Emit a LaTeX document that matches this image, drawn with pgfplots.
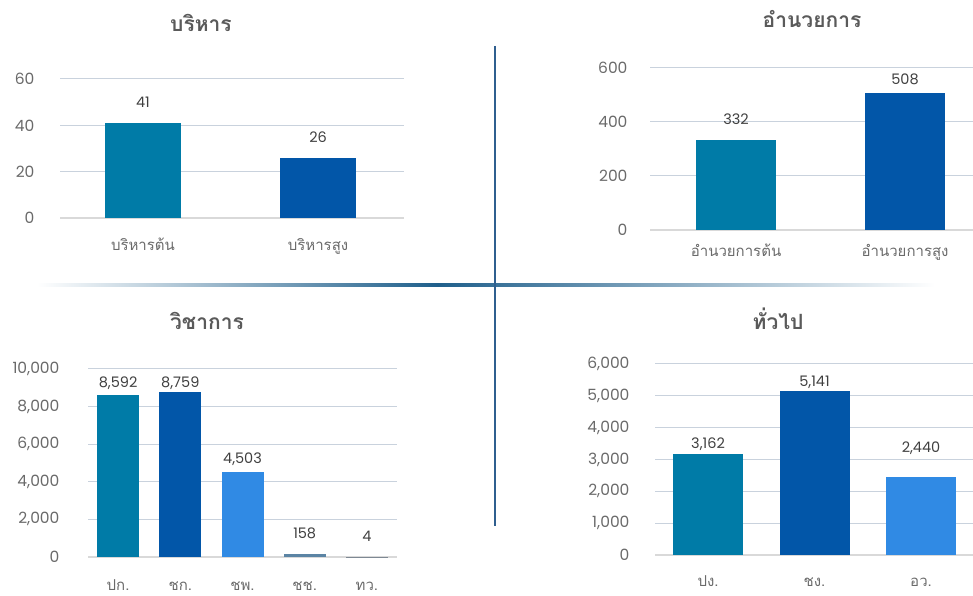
\documentclass[border=0pt]{standalone}
\usepackage{fontspec}
\usepackage{pgfplots}
\pgfplotsset{compat=1.18}
\setmainfont{Poppins}
\newfontfamily\thai[Script=Thai]{Loma}
\definecolor{cA}{HTML}{007BA7}
\definecolor{cB}{HTML}{0256A8}
\definecolor{cC}{HTML}{308AE4}
\definecolor{cD}{HTML}{5B84A4}
\definecolor{cE}{HTML}{7E8893}
\definecolor{gridc}{HTML}{C9D2DD}
\definecolor{basec}{HTML}{D9D9D9}
\definecolor{tickc}{HTML}{6A6A6A}
\definecolor{labc}{HTML}{404040}
\definecolor{titc}{HTML}{5A5A5A}
\definecolor{divc}{HTML}{1F5F8B}
\definecolor{divv}{HTML}{2F5F8F}
\pgfplotsset{
  /pgf/number format/assume math mode=true,
  /pgf/number format/1000 sep={,},
  panel/.style={
    scale only axis, anchor=south west, clip=false,
    ybar, ymin=0, scaled y ticks=false,
    axis line style={draw=none}, major tick length=0pt,
    ymajorgrids, grid style={draw=gridc, line width=1pt},
    extra y ticks={0},
    extra y tick style={grid style={draw=basec, line width=1.6pt}},
    tick label style={font=\fontsize{15.5}{15.5}\selectfont, text=tickc},
    xticklabel style={font=\thai\fontsize{15}{15}\selectfont, text=tickc, anchor=base},
    nodes near coords,
    every node near coord/.append style={font=\fontsize{14.5}{14.5}\selectfont, text=labc, anchor=base},
  },
  lab/.style={bar shift=0pt, draw=none, every node near coord/.append style={yshift=#1}},
}
\begin{document}
\begin{tikzpicture}
\useasboundingbox (0,0) rectangle (973pt,596pt);
% dividers
\shade[left color=white, right color=divc] (37pt,309.5pt) rectangle (437pt,312.5pt);
\shade[left color=divc, right color=white] (437pt,309.5pt) rectangle (935pt,312.5pt);
\draw[divv, line width=1.5pt] (495pt,550pt) -- (495pt,70pt);
% titles
\begin{scope}[every node/.style={font=\thai\bfseries\fontsize{21}{21}\selectfont, text=titc, anchor=base}]
\node at (201pt,564pt) {บริหาร};
\node at (812pt,568pt) {อำนวยการ};
\node at (207pt,266pt) {วิชาการ};
\node at (778pt,266pt) {ทั่วไป};
\end{scope}
% panel 1
\begin{axis}[panel, at={(60pt,378pt)}, width=344pt, height=139pt,
  ymax=60, ytick={20,40,60}, xmin=-0.474, xmax=1.491, bar width=76pt,
  xtick={0,1}, xticklabels={บริหารต้น,บริหารสูง},
  yticklabel style={xshift=-22pt}, xticklabel style={yshift=-33pt}]
\addplot[lab=16pt, fill=cA] coordinates {(0,41)};
\addplot[lab=15pt, fill=cB] coordinates {(1,26)};
\end{axis}
% panel 2
\begin{axis}[panel, at={(650pt,366pt)}, width=323pt, height=162pt,
  ymax=600, ytick={200,400,600}, xmin=-0.509, xmax=1.402, bar width=80pt,
  xtick={0,1}, xticklabels={อำนวยการต้น,อำนวยการสูง},
  yticklabel style={xshift=-19pt}, xticklabel style={yshift=-27pt}]
\addplot[lab=16pt, fill=cA] coordinates {(0,332)};
\addplot[lab=8pt, fill=cB] coordinates {(1,508)};
\end{axis}
% panel 3
\begin{axis}[panel, at={(88pt,39pt)}, width=309pt, height=188pt,
  ymax=10000, ytick={2000,4000,6000,8000,10000}, xmin=-0.484, xmax=4.484, bar width=42pt,
  xtick={0,1,2,3,4}, xticklabels={ปก.,ชก.,ชพ.,ชช.,ทว.},
  yticklabel style={xshift=-25pt}, xticklabel style={yshift=-33pt}]
\addplot[lab=8pt, fill=cA] coordinates {(0,8592)};
\addplot[lab=5pt, fill=cB] coordinates {(1,8759)};
\addplot[lab=9pt, fill=cC] coordinates {(2,4503)};
\addplot[lab=16pt, fill=cD] coordinates {(3,158)};
\addplot[lab=15pt, fill=cE] coordinates {(4,4)};
\end{axis}
% panel 4
\begin{axis}[panel, at={(655pt,41pt)}, width=318pt, height=191pt,
  ymax=6000, ytick={1000,2000,3000,4000,5000,6000}, xmin=-0.498, xmax=2.488, bar width=70pt,
  xtick={0,1,2}, xticklabels={ปง.,ชง.,อว.},
  yticklabel style={xshift=-22pt}, xticklabel style={yshift=-32pt}]
\addplot[lab=6pt, fill=cA] coordinates {(0,3162)};
\addplot[lab=5pt, fill=cB] coordinates {(1,5141)};
\addplot[lab=25pt, fill=cC] coordinates {(2,2440)};
\end{axis}
\end{tikzpicture}
\end{document}
